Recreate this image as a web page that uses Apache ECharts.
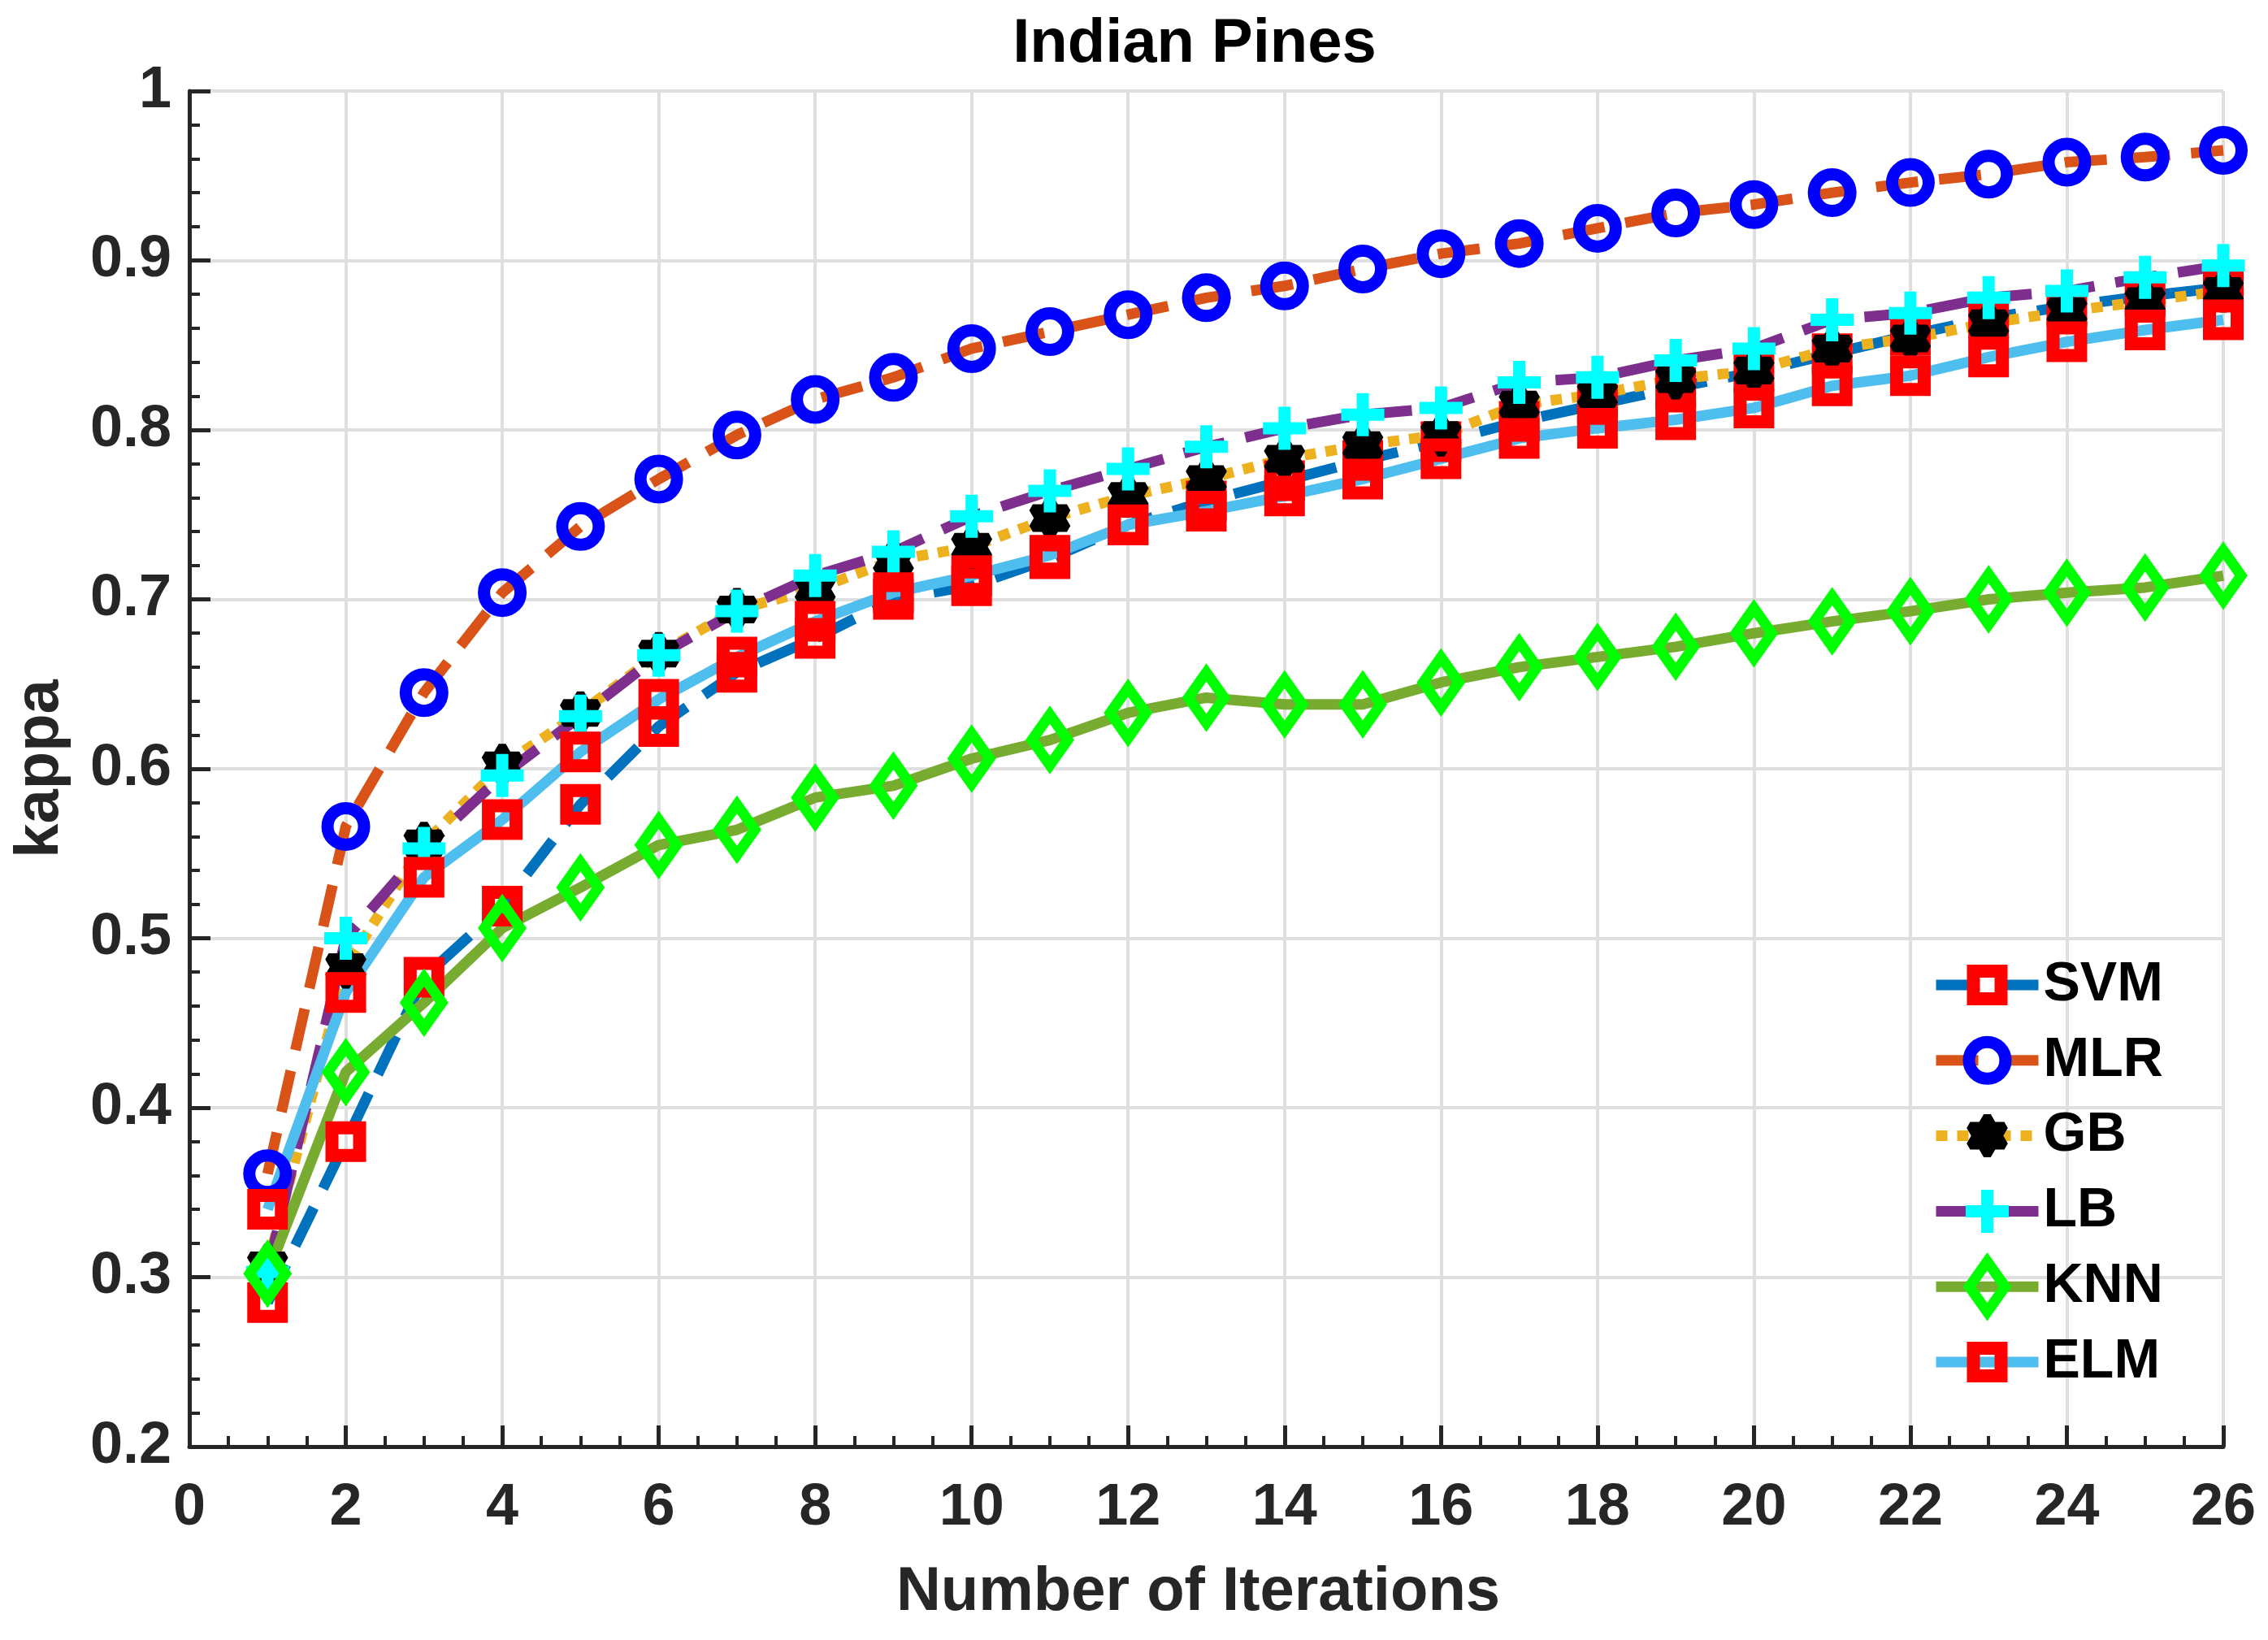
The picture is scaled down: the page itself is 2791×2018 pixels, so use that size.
<!DOCTYPE html>
<html>
<head>
<meta charset="utf-8">
<script src="https://cdn.jsdelivr.net/npm/echarts@6/dist/echarts.min.js"></script>
<style>
html,body{margin:0;padding:0;background:#fff;}
#chart{width:2791px;height:2018px;}
</style>
</head>
<body>
<div id="chart"></div>
<script>
// ---- data ----
const iterations = [1,2,3,4,5,6,7,8,9,10,11,12,13,14,15,16,17,18,19,20,21,22,23,24,25,26];
const seriesNames = ['SVM','MLR','GB','LB','KNN','ELM'];
const svm = [0.285,0.380,0.477,0.519,0.579,0.625,0.657,0.677,0.700,0.708,0.724,0.744,0.758,0.770,0.782,0.793,0.805,0.815,0.825,0.834,0.845,0.856,0.866,0.873,0.879,0.884];
const mlr = [0.361,0.566,0.645,0.704,0.743,0.771,0.797,0.818,0.831,0.848,0.858,0.868,0.878,0.885,0.895,0.904,0.910,0.919,0.928,0.933,0.940,0.946,0.951,0.958,0.961,0.965];
const gb  = [0.307,0.483,0.556,0.602,0.633,0.668,0.694,0.706,0.723,0.731,0.748,0.761,0.771,0.783,0.791,0.797,0.815,0.821,0.830,0.835,0.848,0.854,0.863,0.870,0.876,0.882];
const lb  = [0.303,0.500,0.553,0.596,0.631,0.667,0.693,0.714,0.728,0.749,0.764,0.777,0.790,0.801,0.809,0.813,0.828,0.831,0.841,0.848,0.865,0.869,0.878,0.882,0.890,0.897];
const knn = [0.302,0.421,0.462,0.506,0.530,0.555,0.564,0.583,0.590,0.606,0.617,0.633,0.642,0.638,0.638,0.651,0.660,0.666,0.672,0.680,0.687,0.693,0.700,0.704,0.707,0.714];
const elm = [0.340,0.468,0.536,0.570,0.610,0.641,0.666,0.687,0.704,0.714,0.726,0.744,0.752,0.761,0.771,0.783,0.795,0.801,0.806,0.813,0.826,0.832,0.843,0.852,0.859,0.865];

// ---- styling ----
const FONT = "'Liberation Sans', Arial, Helvetica, sans-serif";
const AX = '#262626';
// all marker paths share a 72x72 frame so plot and legend markers match
const SQUARE  = 'path://M0,0M72,72M19,19L53,19L53,53L19,53Z';
const CIRCLE  = 'path://M0,0M72,72M13.5,36A22.5,22.5,0,1,1,58.5,36A22.5,22.5,0,1,1,13.5,36Z';
const DIAMOND = 'path://M0,0M72,72M36,5L58,36L36,67L14,36Z';
const PLUS    = 'path://M0,0M72,72M28.5,9.5L43.5,9.5L43.5,28.5L62.5,28.5L62.5,43.5L43.5,43.5L43.5,62.5L28.5,62.5L28.5,43.5L9.5,43.5L9.5,28.5L28.5,28.5Z';
const HEXA    = 'path://M0,0M72,72M36,12L43,24L57,24L50,36L57,48L43,48L36,60L29,48L15,48L22,36L15,24L29,24Z';
const SYM = 72;
const LW = 13;

function pairs(vals){ return iterations.map((x,i)=>[x, vals[i]]); }

function mk(name, vals, lineColor, dash, symbol, itemStyle){
  return {
    name: name, type: 'line', data: pairs(vals),
    symbol: symbol, symbolSize: SYM, showAllSymbol: true,
    lineStyle: {color: lineColor, width: LW, type: dash, cap: 'butt'},
    itemStyle: itemStyle,
    emphasis: {disabled: true},
    z: 2
  };
}

const hollow = (c, w, join) => ({color: 'rgba(255,255,255,0)', borderColor: c, borderWidth: w, borderJoin: join || 'miter'});

const chart = echarts.init(document.getElementById('chart'), null, {renderer: 'canvas'});
chart.setOption({
  animation: false,
  backgroundColor: '#ffffff',
  title: {
    text: 'Indian Pines', left: 1470, top: 17, textAlign: 'center', padding: 0,
    textStyle: {fontFamily: FONT, fontSize: 76, fontWeight: 'bold', color: '#000'}
  },
  grid: {left: 233, right: 55, top: 112, bottom: 238, outerBoundsMode: 'none', containLabel: false},
  legend: {
    orient: 'vertical', left: 2371, top: 1161,
    itemWidth: 126, itemHeight: 90, itemGap: 0.8,
    selectedMode: false,
    data: seriesNames,
    lineStyle: {width: 'inherit', type: 'inherit', color: 'inherit', cap: 'inherit'},
    itemStyle: {borderWidth: 'inherit', borderColor: 'inherit', color: 'inherit', borderJoin: 'inherit'},
    textStyle: {fontFamily: FONT, fontSize: 68, fontWeight: 'bold', color: '#000', lineHeight: 92, padding: [0,0,0,1]}
  },
  xAxis: {
    type: 'value', min: 0, max: 26, interval: 2,
    name: 'Number of Iterations', nameLocation: 'middle', nameGap: 142,
    nameTextStyle: {fontFamily: FONT, fontSize: 76, fontWeight: 'bold', color: AX, padding: [0, 20, 0, 0]},
    axisLine: {show: true, onZero: false, lineStyle: {color: AX, width: 5}},
    axisTick: {show: true, inside: true, length: 26, lineStyle: {color: AX, width: 5}},
    minorTick: {show: true, splitNumber: 4, length: 13, lineStyle: {color: AX, width: 4}},
    axisLabel: {margin: 40, fontFamily: FONT, fontSize: 72, fontWeight: 'bold', color: AX, hideOverlap: false},
    splitLine: {show: true, lineStyle: {color: '#dfdfdf', width: 4}}
  },
  yAxis: {
    type: 'value', min: 0.2, max: 1, interval: 0.1,
    name: 'kappa', nameLocation: 'middle', nameGap: 145, nameRotate: 90,
    nameTextStyle: {fontFamily: FONT, fontSize: 76, fontWeight: 'bold', color: AX},
    axisLine: {show: true, onZero: false, lineStyle: {color: AX, width: 5}},
    axisTick: {show: true, inside: true, length: 26, lineStyle: {color: AX, width: 5}},
    minorTick: {show: true, splitNumber: 5, length: 13, lineStyle: {color: AX, width: 4}},
    axisLabel: {margin: 22, fontFamily: FONT, fontSize: 72, fontWeight: 'bold', color: AX, hideOverlap: false},
    splitLine: {show: true, lineStyle: {color: '#dfdfdf', width: 4}}
  },
  series: [
    mk('SVM', svm, '#0072BD', [52,26], SQUARE, hollow('#FF0000', 16)),
    mk('MLR', mlr, '#D95319', [52,26], CIRCLE, hollow('#0000FF', 15)),
    mk('GB',  gb,  '#EDB120', [14,12], HEXA, {color: '#000000', borderColor: '#000000', borderWidth: 10, borderJoin: 'bevel'}),
    mk('LB',  lb,  '#7E2F8E', [52,26], PLUS, {color: '#00FFFF', borderWidth: 0}),
    mk('KNN', knn, '#77AC30', 'solid', DIAMOND, hollow('#00FF00', 13)),
    mk('ELM', elm, '#4DBEEE', 'solid', SQUARE, hollow('#FF0000', 16))
  ]
});
</script>
</body>
</html>
